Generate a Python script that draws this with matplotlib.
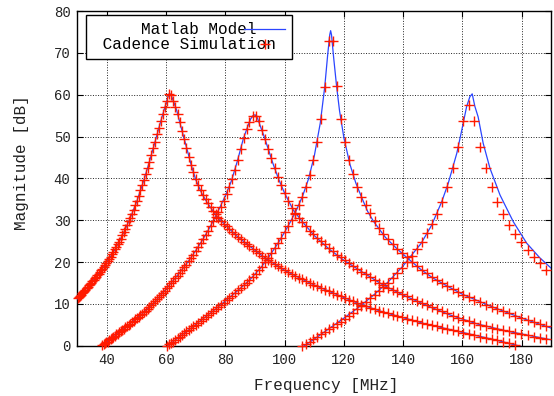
import numpy as np
import matplotlib
matplotlib.use("Agg")
import matplotlib.pyplot as plt

plt.rcParams['font.family'] = ['Liberation Mono', 'DejaVu Sans Mono']

# Cadence sweep frequencies [MHz] (shared by all four resonators)
sim_freq = [30.20, 30.55, 30.90, 31.26,
            31.62, 31.99, 32.36, 32.73, 33.11, 33.50, 33.88, 34.28, 34.67, 35.08,
            35.48, 35.89, 36.31, 36.73, 37.15, 37.58, 38.02, 38.46, 38.90, 39.36,
            39.81, 40.27, 40.74, 41.21, 41.69, 42.17, 42.66, 43.15, 43.65, 44.16,
            44.67, 45.19, 45.71, 46.24, 46.77, 47.32, 47.86, 48.42, 48.98, 49.55,
            50.12, 50.70, 51.29, 51.88, 52.48, 53.09, 53.70, 54.33, 54.95, 55.59,
            56.23, 56.89, 57.54, 58.21, 58.88, 59.57, 60.26, 60.95, 61.66, 62.37,
            63.10, 63.83, 64.57, 65.31, 66.07, 66.83, 67.61, 68.39, 69.18, 69.98,
            70.79, 71.61, 72.44, 73.28, 74.13, 74.99, 75.86, 76.74, 77.62, 78.52,
            79.43, 80.35, 81.28, 82.22, 83.18, 84.14, 85.11, 86.10, 87.10, 88.10,
            89.13, 90.16, 91.20, 92.26, 93.33, 94.41, 95.50, 96.61, 97.72, 98.86,
            100.00, 101.16, 102.33, 103.51, 104.71, 105.93, 107.15, 108.39, 109.65, 110.92,
            112.20, 113.50, 114.82, 116.14, 117.49, 118.85, 120.23, 121.62, 123.03, 124.45,
            125.89, 127.35, 128.82, 130.32, 131.83, 133.35, 134.90, 136.46, 138.04, 139.64,
            141.25, 142.89, 144.54, 146.22, 147.91, 149.62, 151.36, 153.11, 154.88, 156.68,
            158.49, 160.32, 162.18, 164.06, 165.96, 167.88, 169.82, 171.79, 173.78, 175.79,
            177.83, 179.89, 181.97, 184.08, 186.21, 188.36]

# Cadence simulation [dB], each starting at its first frequency
sim_start = [30.20, 38.46, 60.26, 105.93]

sim_db_1 = [11.4, 11.6, 11.9, 12.2,
            12.5, 12.8, 13.1, 13.4, 13.7, 14.1, 14.4, 14.7, 15.1, 15.4,
            15.8, 16.1, 16.5, 16.8, 17.2, 17.6, 18.0, 18.4, 18.8, 19.3,
            19.8, 20.3, 20.8, 21.3, 21.9, 22.4, 23.0, 23.6, 24.3, 24.9,
            25.6, 26.4, 27.2, 28.0, 28.8, 29.7, 30.6, 31.5, 32.5, 33.6,
            34.6, 35.8, 37.1, 38.3, 39.7, 41.1, 42.5, 44.0, 45.6, 47.2,
            48.8, 50.5, 52.1, 53.8, 55.4, 57.0, 58.6, 60.1, 59.9, 58.6,
            57.0, 55.3, 53.4, 51.4, 49.3, 47.2, 45.2, 43.3, 41.5, 39.9,
            38.5, 37.2, 36.0, 35.0, 34.0, 33.1, 32.2, 31.4, 30.6, 29.9,
            29.2, 28.5, 27.9, 27.2, 26.6, 26.0, 25.5, 24.9, 24.4, 23.9,
            23.2, 22.6, 22.1, 21.5, 21.0, 20.5, 20.0, 19.5, 19.0, 18.5,
            18.0, 17.6, 17.1, 16.7, 16.3, 15.9, 15.5, 15.0, 14.6, 14.2,
            13.8, 13.4, 13.0, 12.6, 12.2, 11.8, 11.4, 11.0, 10.6, 10.2,
            9.8, 9.4, 9.0, 8.7, 8.4, 8.1, 7.7, 7.4, 7.1, 6.8,
            6.4, 6.1, 5.8, 5.5, 5.2, 4.9, 4.6, 4.3, 4.0, 3.7,
            3.4, 3.1, 2.8, 2.5, 2.2, 1.9, 1.6, 1.3, 1.0, 0.6,
            0.2]

sim_db_2 = [0.1, 0.3, 0.6,
            0.8, 1.0, 1.3, 1.6, 1.8, 2.1, 2.4, 2.7, 2.9, 3.2,
            3.5, 3.8, 4.1, 4.4, 4.7, 5.0, 5.3, 5.6, 5.9, 6.3,
            6.6, 6.9, 7.3, 7.6, 8.0, 8.4, 8.8, 9.2, 9.7, 10.1,
            10.6, 11.1, 11.6, 12.1, 12.6, 13.1, 13.7, 14.3, 14.9, 15.5,
            16.1, 16.7, 17.3, 18.0, 18.7, 19.4, 20.2, 21.0, 21.8, 22.7,
            23.6, 24.5, 25.5, 26.5, 27.5, 28.6, 29.7, 30.7, 31.9, 33.2,
            34.7, 36.3, 38.0, 39.8, 42.0, 44.4, 47.0, 49.6, 51.8, 53.5,
            54.8, 54.9, 53.6, 51.6, 49.4, 47.1, 44.8, 42.4, 40.3, 38.3,
            36.4, 34.6, 33.0, 31.6, 30.5, 29.5, 28.5, 27.5, 26.6, 25.8,
            25.0, 24.2, 23.4, 22.6, 21.8, 21.1, 20.4, 19.7, 19.0, 18.4,
            17.7, 17.1, 16.4, 15.8, 15.1, 14.5, 13.9, 13.4, 12.8, 12.3,
            11.8, 11.2, 10.7, 10.2, 9.7, 9.2, 8.7, 8.2, 7.7, 7.2,
            6.7, 6.2, 5.8, 5.4, 5.0, 4.6, 4.3, 4.0, 3.7, 3.4,
            3.1, 2.8, 2.5, 2.2, 1.9, 1.6]

sim_db_3 = [0.0, 0.3, 0.6, 1.0,
            1.4, 1.8, 2.2, 2.6, 3.0, 3.4, 3.8, 4.2, 4.6, 5.0,
            5.5, 5.9, 6.4, 6.8, 7.3, 7.8, 8.3, 8.8, 9.3, 9.8,
            10.3, 10.9, 11.4, 12.0, 12.6, 13.2, 13.8, 14.4, 15.0, 15.7,
            16.4, 17.2, 18.0, 18.9, 20.0, 21.0, 22.1, 23.3, 24.5, 25.8,
            27.2, 28.6, 30.1, 31.8, 33.6, 35.6, 37.9, 40.9, 44.4, 48.6,
            54.2, 61.8, 72.9, 72.9, 62.1, 54.3, 48.8, 44.4, 41.0, 38.0,
            35.6, 33.6, 31.8, 29.8, 28.2, 26.8, 25.5, 24.3, 23.2, 22.1,
            21.1, 20.1, 19.1, 18.2, 17.3, 16.5, 15.7, 14.9, 14.2, 13.5,
            12.8, 12.2, 11.6, 11.0, 10.4, 9.8, 9.3, 8.8, 8.2, 7.7,
            7.1, 6.6, 6.1, 5.6, 5.1, 4.6]

sim_db_4 = [0.0, 0.4, 1.0, 1.5, 2.1,
            2.7, 3.3, 3.9, 4.5, 5.1, 5.7, 6.4, 7.1, 7.9, 8.7,
            9.6, 10.5, 11.3, 12.2, 13.1, 14.0, 15.0, 16.1, 17.3, 18.6,
            20.0, 21.5, 23.1, 24.9, 26.9, 29.2, 31.6, 34.4, 38.0, 42.4,
            47.6, 53.7, 57.5, 53.7, 47.6, 42.4, 38.0, 34.4, 31.6, 28.8,
            26.7, 24.7, 22.9, 21.3, 19.7, 18.1]

# Matlab model curves [MHz], [dB]
model_f_1 = [30, 32, 34, 36, 38, 40, 42, 44, 46, 48, 50, 52, 54, 56, 58, 59.5, 60.5,
             61.1, 61.8, 62.5, 63.5, 64.5, 65.5, 67, 68.5, 70, 72, 74, 77, 80, 84,
             88, 92, 96, 100, 105, 110, 115, 120, 126, 133, 140, 147, 155, 163, 171, 180]
model_db_1 = [11.2, 12.8, 14.5, 16.2, 18.0, 20.0, 22.2, 24.7, 27.6, 30.8, 34.4, 38.6,
              43.2, 48.2, 53.3, 56.9, 59.3, 60.4, 59.6, 58.3, 56.3, 53.6, 50.9, 47.0,
              43.0, 39.6, 36.4, 34.0, 31.0, 28.8, 26.1, 23.9, 21.7, 19.8, 18.0, 16.2,
              14.5, 13.0, 11.5, 9.8, 8.1, 6.7, 5.3, 4.0, 2.7, 1.4, -0.2]

model_f_2 = [38, 40, 42, 44, 46, 48, 50, 52, 54, 56, 58, 60, 62, 64, 66, 68, 70, 72,
             74, 76, 78, 80, 82, 84, 86, 87.5, 88.5, 89.3, 90, 90.8, 91.8, 93, 94.5,
             96, 98, 100, 103, 106, 110, 115, 120, 126, 133, 140, 148, 156, 165, 175, 190]
model_db_2 = [-0.3, 0.9, 2.0, 3.1, 4.3, 5.4, 6.6, 7.7, 9.0, 10.4, 12.0, 13.6, 15.3,
              17.0, 18.8, 20.7, 22.8, 25.0, 27.4, 30.0, 32.9, 35.9, 39.4, 44.1, 49.4,
              52.4, 54.2, 55.0, 55.2, 54.4, 52.4, 50.1, 46.9, 43.6, 39.7, 36.4, 32.3,
              29.6, 26.3, 23.1, 20.4, 17.7, 14.6, 12.1, 9.6, 7.3, 5.2, 3.5, 1.4]

model_f_3 = [60, 64, 68, 72, 76, 80, 84, 88, 92, 95, 98, 100, 102, 104, 106, 108, 110,
             112, 113.5, 114.5, 115.2, 115.5, 115.8, 116.5, 117.5, 118.5, 120, 122,
             124, 126, 128, 130, 134, 138, 142, 146, 150, 155, 160, 170, 180, 190]
model_db_3 = [-0.3, 1.9, 4.0, 6.2, 8.4, 10.7, 13.1, 15.6, 18.7, 21.6, 24.8, 27.2, 29.7,
              32.5, 35.7, 39.8, 45.4, 53.2, 61.8, 69.5, 74.3, 75.3, 74.3, 69.0, 62.1,
              56.2, 49.6, 43.4, 38.9, 35.4, 32.1, 29.7, 25.9, 23.1, 20.6, 18.2, 16.2,
              14.2, 12.3, 9.3, 6.6, 4.2]

model_f_4 = [106, 110, 115, 120, 125, 130, 135, 140, 143, 146, 149.6, 153, 155.2, 158.1,
             159.8, 161.4, 162.5, 163.3, 164.2, 165.3, 167, 169.3, 172.7, 177.2, 181.7,
             186, 190]
model_db_4 = [-0.3, 1.6, 4.1, 6.6, 9.2, 12.1, 15.3, 19.1, 21.8, 24.4, 28.8, 34.4, 38.8,
              46.0, 51.6, 57.1, 59.5, 60.2, 57.2, 54.7, 48.4, 42.4, 36.0, 29.6, 24.5,
              21.1, 18.5]

model_f = [model_f_1, model_f_2, model_f_3, model_f_4]
model_db = [model_db_1, model_db_2, model_db_3, model_db_4]
sim_db = [sim_db_1, sim_db_2, sim_db_3, sim_db_4]

fig = plt.figure(figsize=(5.54, 3.96), dpi=100)
ax = fig.add_axes([0.1397, 0.1270, 0.8554, 0.8452])

for k in range(4):
    ax.plot(model_f[k], model_db[k], color="#2b45ff", lw=0.9,
            label="Matlab Model  " if k == 0 else None, zorder=3)

for k in range(4):
    i0 = sim_freq.index(sim_start[k])
    f = sim_freq[i0:i0 + len(sim_db[k])]
    ax.plot(f, sim_db[k], linestyle="none", marker="+", ms=6.5, mew=1.0,
            color="#ff1a00", clip_on=False,
            label=" Cadence Simulation" if k == 0 else None, zorder=4)

ax.set_xlim(30, 190)
ax.set_ylim(0, 80)
ax.set_xticks(np.arange(40, 181, 20))
ax.set_yticks(np.arange(0, 81, 10))
ax.tick_params(direction="in", top=True, right=True, length=4, width=0.8,
               labelsize=10, labelcolor="#222222", pad=5)
ax.grid(True, linestyle=":", color="#222222", lw=0.7)
for s in ax.spines.values():
    s.set_linewidth(1.0)

ax.set_xlabel("Frequency [MHz]", fontsize=11.5, color="#222222")
ax.set_ylabel("Magnitude [dB]", fontsize=11.5, color="#222222")
ax.xaxis.set_label_coords(0.526, -0.097)
ax.yaxis.set_label_coords(-0.102, 0.547)

leg = ax.legend(loc="upper left", bbox_to_anchor=(0.018, 0.988), borderaxespad=0,
                markerfirst=False, handlelength=2.57, handletextpad=-2.0,
                labelspacing=0.0, borderpad=0.45, fontsize=11.5,
                fancybox=False, framealpha=1, edgecolor="black", numpoints=1)
leg.get_frame().set_linewidth(1.0)

fig.savefig("out.png", dpi=100)
